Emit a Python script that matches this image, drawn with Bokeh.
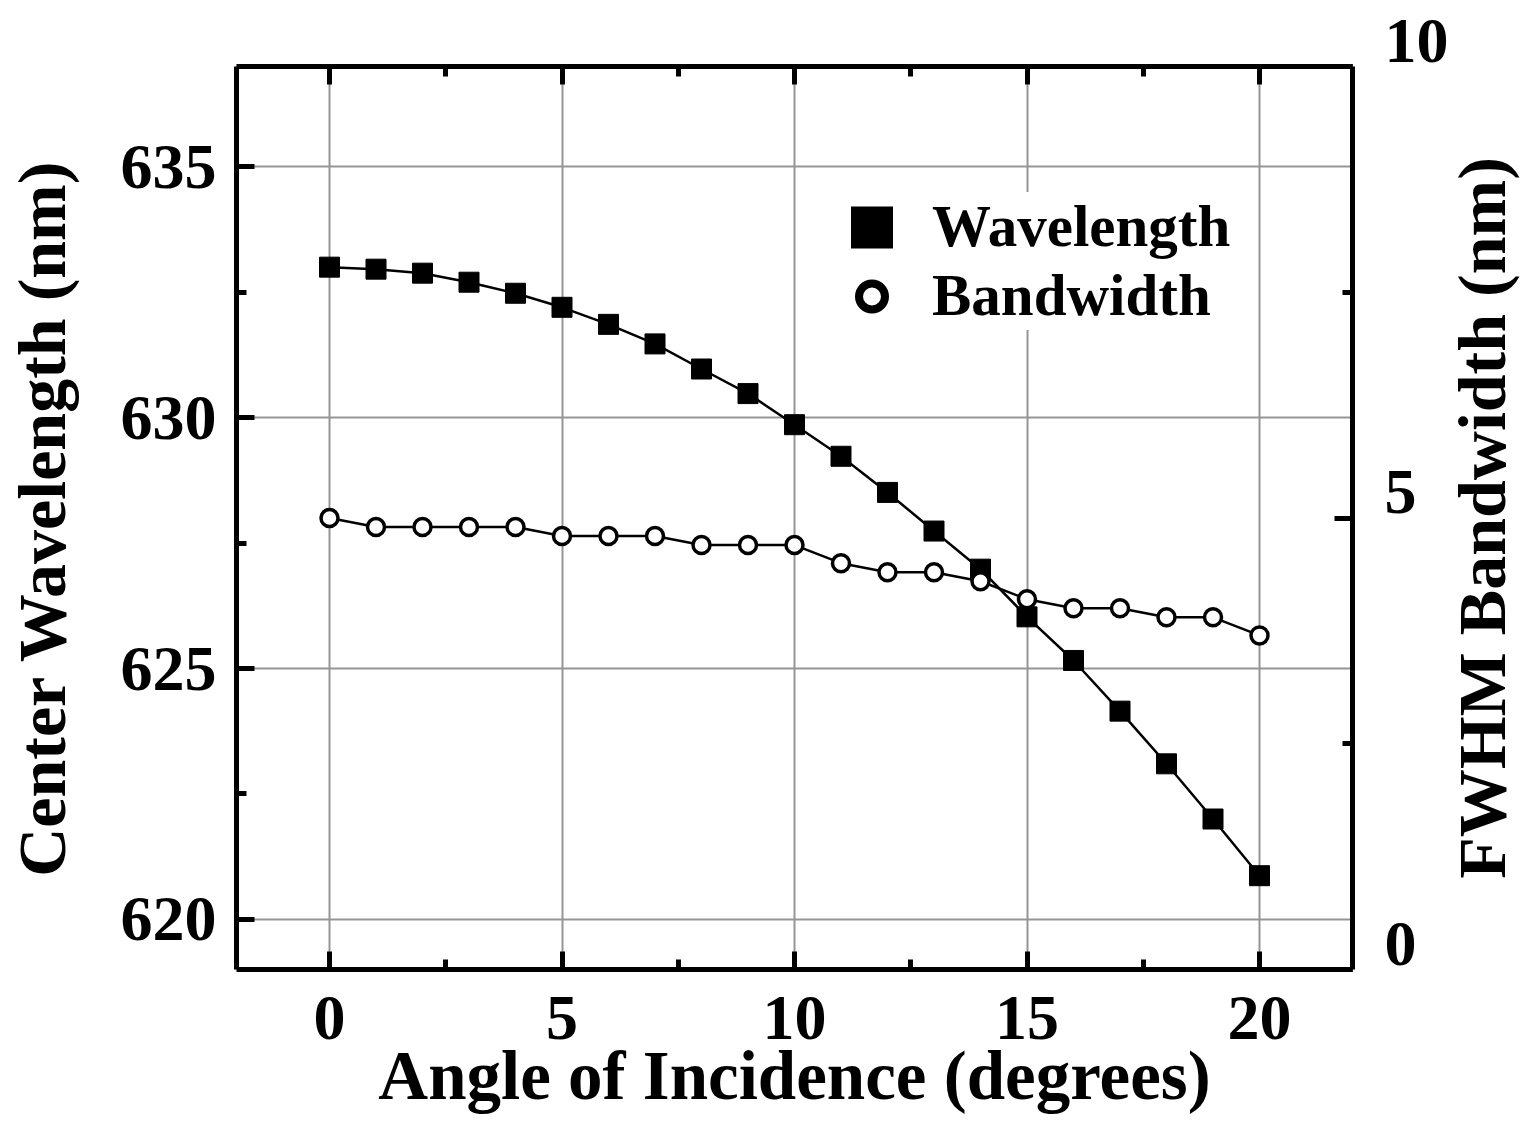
import math
from bokeh.plotting import figure
from bokeh.models import Range1d, LinearAxis, SingleIntervalTicker, Legend, LegendItem, Label
from bokeh.embed import file_html
from bokeh.resources import INLINE

angle = list(range(21))
wavelength = [633.0, 632.96, 632.88, 632.70, 632.48, 632.2, 631.86, 631.47, 630.97,
              630.48, 629.86, 629.23, 628.51, 627.74, 626.98, 626.03, 625.16, 624.15,
              623.10, 622.0, 620.87]
bandwidth = [5.0, 4.9, 4.9, 4.9, 4.9, 4.8, 4.8, 4.8, 4.7, 4.7, 4.7, 4.5, 4.4, 4.4,
             4.3, 4.1, 4.0, 4.0, 3.9, 3.9, 3.7]
bw_ticks = [0, 5, 10]
bw_tick_labels = ["0", "5", "10"]

FONT = "Liberation Serif"

x_rng = Range1d(-2, 22)
bw_rng = Range1d(0, 10)

p = figure(frame_width=1116, frame_height=903,
           min_border_left=229, min_border_top=66, min_border_right=161, min_border_bottom=150,
           x_range=x_rng, y_range=Range1d(619, 637),
           output_backend="svg", toolbar_location=None,
           x_axis_location="below", y_axis_location="left")
p.outline_line_color = None
p.background_fill_color = "white"
p.border_fill_color = "white"

p.extra_y_ranges = {"bw": bw_rng, "legend_only": Range1d(10000, 10001)}

def style_axis(ax, labels=True):
    ax.axis_line_width = 5
    ax.axis_line_color = "black"
    ax.major_tick_in = 18
    ax.major_tick_out = 0
    ax.minor_tick_in = 10
    ax.minor_tick_out = 0
    ax.major_tick_line_width = 5
    ax.minor_tick_line_width = 5
    ax.major_label_text_font = FONT
    ax.major_label_text_font_style = "bold"
    ax.major_label_text_font_size = "64px"
    ax.major_label_text_color = "black"
    ax.axis_label_text_font = FONT
    ax.axis_label_text_font_style = "bold"
    ax.axis_label_text_font_size = "68px"
    ax.axis_label_text_color = "black"
    if not labels:
        ax.major_label_text_font_size = "0px"
        ax.major_label_text_alpha = 0

xt = SingleIntervalTicker(interval=5, num_minor_ticks=2)
yt = SingleIntervalTicker(interval=5, num_minor_ticks=2)
p.xaxis.ticker = xt
p.yaxis.ticker = yt
style_axis(p.xaxis[0])
style_axis(p.yaxis[0])
p.xaxis.axis_label = "Angle of Incidence (degrees)"
p.yaxis.axis_label = "Center Wavelength (nm)"
p.xaxis.axis_label_text_font_size = "69px"
p.xaxis.major_label_standoff = 27
p.xaxis.axis_label_standoff = -4
p.yaxis.major_label_standoff = 20
p.yaxis.axis_label_standoff = 38

top_ax = LinearAxis(ticker=SingleIntervalTicker(interval=5, num_minor_ticks=2))
style_axis(top_ax, labels=False)
p.add_layout(top_ax, "above")

right_ax = LinearAxis(y_range_name="bw", ticker=SingleIntervalTicker(interval=5, num_minor_ticks=2))
style_axis(right_ax, labels=False)
right_ax.major_label_standoff = 0
p.add_layout(right_ax, "right")

# right-axis tick labels, raised above their ticks as in the reference
for v, t in zip(bw_ticks, bw_tick_labels):
    p.add_layout(Label(x=x_rng.end, y=v, y_range_name="bw", text=t, x_offset=32, y_offset=26,
                       text_align="left", text_baseline="middle",
                       text_font=FONT, text_font_style="bold", text_font_size="64px",
                       text_color="black"), "right")

# right-axis title, reading bottom to top
p.add_layout(Label(x=x_rng.end, y=(bw_rng.start + bw_rng.end) / 2, y_range_name="bw",
                   text="FWHM Bandwidth (nm)", x_offset=129, angle=math.pi / 2,
                   text_align="center", text_baseline="middle",
                   text_font=FONT, text_font_style="bold", text_font_size="68px",
                   text_color="black"), "right")

p.xgrid.grid_line_color = "#959595"
p.xgrid.grid_line_width = 2
p.ygrid.grid_line_color = "#959595"
p.ygrid.grid_line_width = 2
p.xgrid.ticker = xt
p.ygrid.ticker = yt

p.line(angle, wavelength, line_color="black", line_width=2.5)
p.scatter(angle, wavelength, marker="square", size=20, fill_color="black", line_color="black")
p.line(angle, bandwidth, line_color="black", line_width=2.5, y_range_name="bw")
p.scatter(angle, bandwidth, marker="circle", size=17, fill_color="white", line_color="black",
          line_width=3.5, y_range_name="bw")

# legend-only renderers (bigger glyphs as in reference), drawn on an off-screen range
lg_sq = p.scatter(angle, wavelength, marker="square", size=26, fill_color="black",
                  line_color="black", line_width=16, line_join="miter",
                  y_range_name="legend_only")
lg_ci = p.scatter(angle, bandwidth, marker="circle", size=26, fill_color="white",
                  line_color="black", line_width=8, y_range_name="legend_only")

legend = Legend(items=[LegendItem(label="Wavelength", renderers=[lg_sq]),
                       LegendItem(label="Bandwidth", renderers=[lg_ci])],
                location=(603, 639))
legend.label_text_font = FONT
legend.label_text_font_style = "bold"
legend.label_text_font_size = "59px"
legend.label_text_color = "black"
legend.glyph_width = 65
legend.glyph_height = 68
legend.label_height = 68
legend.spacing = 0
legend.label_standoff = 28
legend.padding = 0
legend.margin = 0
legend.border_line_color = None
legend.background_fill_color = "white"
legend.background_fill_alpha = 1.0
p.add_layout(legend, "center")

open("out.html", "w").write(file_html(p, INLINE))
